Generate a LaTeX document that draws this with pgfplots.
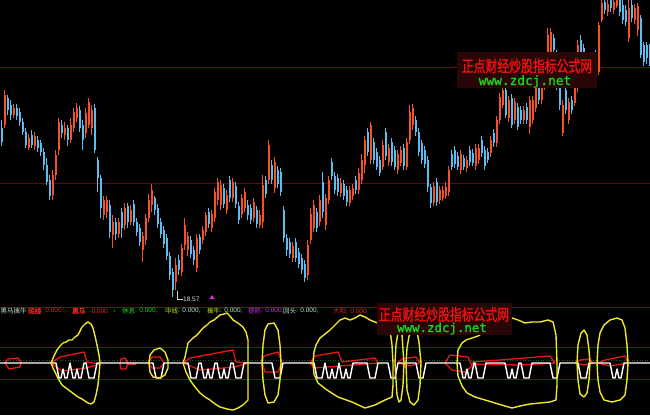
\documentclass[border=0pt]{standalone}
\usepackage{pgfplots}
\pgfplotsset{compat=1.18}
\usepackage{pgfplotstable}
\usepackage{fontspec}
\setmainfont{Noto Sans CJK SC}
\newfontfamily\wmfont[FakeStretch=0.74,FakeBold=1.2]{Noto Sans CJK SC}
\newfontfamily\hbfont[FakeBold=1.5]{Noto Sans CJK SC}
\newfontfamily\urlfont[FakeBold=1.5]{DejaVu Sans Mono}
\newfontfamily\numfont{Liberation Sans}
\definecolor{upc}{RGB}{248,80,40}
\definecolor{dnc}{RGB}{90,190,240}
\definecolor{gridc}{RGB}{105,8,8}
\definecolor{grid2}{RGB}{135,0,0}
\definecolor{yel}{RGB}{238,232,40}
\definecolor{flag}{RGB}{232,22,22}
\definecolor{wmbg}{RGB}{42,6,6}
\definecolor{wmred}{RGB}{238,18,18}
\definecolor{wmgreen}{RGB}{24,215,24}
\definecolor{hgray}{RGB}{215,215,215}
\definecolor{hgreen}{RGB}{40,215,40}
\definecolor{hyel}{RGB}{225,225,30}
\definecolor{hmag}{RGB}{230,40,230}
\definecolor{hred}{RGB}{240,30,30}

\pgfplotsset{
  up only/.style={restrict expr to domain={\thisrow{o}-\thisrow{c}}{0.01:10000}},
  down only/.style={restrict expr to domain={\thisrow{o}-\thisrow{c}}{-10000:0}},
  yshape/.style={yel, line width=1.4pt, mark=none, line join=round},
  fshape/.style={flag, line width=1.3pt, mark=none, line join=round},
}

% candles: pixel rows (y measured from top): open close high low
\pgfplotstableread{
o c h l
128 142 120 146
125 95 90 128
98 110 95 115
105 115 100 120
115 108 104 118
108 116 104 120
112 122 108 126
122 132 118 135
132 145 128 148
148 138 134 150
135 145 130 148
146 136 132 150
140 148 136 152
143 152 140 156
152 165 148 170
165 182 158 185
180 196 175 200
195 175 170 200
175 155 150 180
150 122 118 155
125 133 120 138
135 128 122 140
128 140 125 146
140 125 118 143
128 112 108 132
118 108 103 122
110 128 106 132
125 140 120 150
133 113 108 138
125 102 98 128
128 110 105 135
108 150 104 153
160 178 157 192
178 208 175 218
215 200 196 220
212 200 196 218
205 232 200 238
235 222 215 248
222 234 218 240
234 222 218 238
212 228 208 238
225 208 203 230
206 222 203 228
222 210 205 225
204 222 200 226
222 232 218 236
228 242 224 246
250 236 232 262
240 218 214 245
218 200 194 222
205 190 184 212
198 210 196 215
208 224 204 228
222 234 218 238
230 244 226 248
238 256 234 260
256 275 252 280
272 290 268 297
282 265 258 290
260 270 255 275
272 248 244 276
245 225 218 250
250 236 232 256
240 254 236 258
250 260 246 265
268 238 234 272
237 250 234 254
240 230 226 244
232 215 212 236
212 224 208 228
228 214 210 232
218 192 188 222
200 182 178 205
205 185 180 210
188 204 184 208
210 195 190 214
180 198 176 202
198 182 178 202
186 204 182 208
206 220 202 224
214 198 194 218
208 192 188 212
205 215 200 220
208 220 204 224
218 202 198 222
210 224 206 228
225 215 210 228
222 185 175 228
180 194 176 198
180 145 140 184
165 180 160 184
188 162 157 193
170 184 166 188
172 192 168 196
210 238 206 242
238 250 234 256
242 254 238 258
258 246 242 262
242 258 238 262
252 264 248 268
258 270 254 274
264 278 260 282
275 245 240 280
240 214 208 244
228 205 200 232
212 228 208 232
222 200 195 226
182 212 172 218
225 198 194 230
200 180 176 204
162 176 158 180
176 190 172 194
178 192 174 196
193 183 178 197
184 196 180 200
190 202 186 206
203 190 186 206
196 188 184 200
180 190 176 194
190 173 168 194
180 160 154 184
165 140 136 173
132 152 128 156
160 125 122 164
142 160 138 164
152 167 148 170
160 173 156 176
167 145 140 170
132 156 128 160
162 148 144 166
142 162 138 166
150 167 146 170
170 154 150 174
163 150 146 166
148 166 144 170
167 142 138 170
140 112 105 144
125 108 104 130
120 132 116 136
132 152 128 156
143 160 140 164
150 164 146 168
160 187 156 192
187 203 184 208
203 186 182 206
182 202 178 206
200 190 186 204
198 190 186 201
196 187 182 199
192 170 166 196
154 167 150 170
150 164 146 168
156 167 152 170
170 154 150 174
158 167 155 170
168 160 156 172
150 162 146 166
153 163 149 166
166 148 144 170
160 148 144 164
140 153 136 157
150 166 146 170
152 160 148 163
153 140 136 157
133 143 129 147
143 120 116 147
120 97 93 124
105 90 86 108
90 115 86 118
118 100 96 122
98 125 94 128
120 102 98 124
107 127 103 130
110 120 106 124
120 110 106 124
107 120 103 124
127 100 96 134
120 100 96 124
108 88 84 112
88 100 84 104
100 85 80 104
85 60 55 90
55 35 28 58
52 32 28 55
38 50 34 54
55 85 50 90
88 105 86 110
133 105 100 136
90 110 86 114
120 102 98 124
100 110 96 114
103 88 84 106
88 45 40 92
40 52 35 56
48 58 44 62
58 70 54 75
68 78 64 82
78 66 62 80
55 78 50 82
72 25 22 75
20 3 -5 22
2 10 -5 14
12 4 -5 16
-5 8 -10 12
10 2 -5 14
6 -5 -10 8
0 12 -5 16
5 20 -2 24
10 22 5 26
38 8 0 42
5 18 0 22
20 8 4 24
30 6 3 36
18 55 15 58
45 62 42 66
45 58 42 64
48 62 44 66
}\candles

\begin{document}
\begin{tikzpicture}
\clip (0,0) rectangle (650pt,415pt);
\fill[black] (0,0) rectangle (650pt,415pt);
\begin{axis}[at={(0,0)}, anchor=south west, width=650pt, height=415pt,
  scale only axis, xmin=0, xmax=650, ymin=0, ymax=415, y dir=reverse,
  hide axis, clip=true]

% grid lines
\draw[gridc, line width=1pt] (axis cs:0,67) -- (axis cs:650,67);
\draw[gridc, line width=1pt] (axis cs:0,183) -- (axis cs:650,183);
\draw[grid2, line width=1pt] (axis cs:0,307) -- (axis cs:650,307);
\draw[grid2, line width=1pt] (axis cs:0,347) -- (axis cs:650,347);
\draw[grid2, line width=1pt] (axis cs:0,379) -- (axis cs:650,379);

% candle wicks and bodies
\addplot[draw=none, mark=none, up only,
  error bars/.cd, y dir=both, y explicit, error mark=none,
  error bar style={draw=upc, solid, line width=1pt}]
  table[x expr={1.5+3*\coordindex}, y expr={(\thisrow{h}+\thisrow{l})/2},
        y error expr={(\thisrow{l}-\thisrow{h})/2}] {\candles};
\addplot[draw=none, mark=none, down only,
  error bars/.cd, y dir=both, y explicit, error mark=none,
  error bar style={draw=dnc, solid, line width=1pt}]
  table[x expr={1.5+3*\coordindex}, y expr={(\thisrow{h}+\thisrow{l})/2},
        y error expr={(\thisrow{l}-\thisrow{h})/2}] {\candles};
\addplot[draw=none, mark=none, up only,
  error bars/.cd, y dir=both, y explicit, error mark=none,
  error bar style={draw=upc, solid, line width=2pt}]
  table[x expr={1.5+3*\coordindex}, y expr={(\thisrow{o}+\thisrow{c})/2},
        y error expr={abs(\thisrow{o}-\thisrow{c})/2}] {\candles};
\addplot[draw=none, mark=none, down only,
  error bars/.cd, y dir=both, y explicit, error mark=none,
  error bar style={draw=dnc, solid, line width=2pt}]
  table[x expr={1.5+3*\coordindex}, y expr={(\thisrow{o}+\thisrow{c})/2},
        y error expr={abs(\thisrow{o}-\thisrow{c})/2}] {\candles};

% low marker
\draw[hgray, line width=0.6pt] (axis cs:177,291) -- (axis cs:177,299.5) -- (axis cs:183,299.5);
\node[anchor=west, inner sep=0pt, text=hgray, font=\numfont\fontsize{6.5}{6.5}\selectfont] at (axis cs:183,299.5) {18.57};
\fill[hmag] (axis cs:209.5,299) -- (axis cs:212,295) -- (axis cs:214.5,299) -- cycle;

% top watermark
\fill[wmbg] (axis cs:457,52) rectangle (axis cs:597,88);
\node[inner sep=0pt, text=wmred, font=\wmfont\fontsize{16}{16}\selectfont] at (axis cs:527,66) {正点财经炒股指标公式网};
\node[anchor=base, inner sep=0pt, text=wmgreen, font=\urlfont\fontsize{12.8}{13}\selectfont] at (axis cs:525,85) {www.zdcj.net};

% bottom panel: dotted base
\draw[gray!60!green!50!black, dotted, line width=0.6pt] (axis cs:0,360) -- (axis cs:650,360);

% red flags
\addplot[fshape] coordinates {(5,363)(8,359)(18,358)(21,362)(20,367)(9,369)(5,363)};
\addplot[fshape] coordinates {(51,363)(60,357)(84,352)(87,362)(100,364)(86,368)(62,371)(51,363)};
\addplot[fshape] coordinates {(120,364)(121,359)(125,358)(128,363)(126,369)(121,369)(120,364)};
\addplot[fshape] coordinates {(128,364)(136,364)};
\addplot[fshape] coordinates {(148,363)(152,357)(160,357)(164,363)(160,368)(152,368)(148,363)};
\addplot[fshape] coordinates {(183,363)(190,358)(233,350)(236,362)(248,363)(235,367)(200,370)(183,363)};
\addplot[fshape] coordinates {(262,362)(264,356)(278,352)(282,362)(278,372)(265,372)(262,362)};
\addplot[fshape] coordinates {(310,363)(315,356)(338,352)(342,362)(375,358)(378,363)(340,366)(315,368)(310,363)};
\addplot[fshape] coordinates {(398,363)(402,359)(416,357)(420,363)(410,366)(398,363)};
\addplot[fshape] coordinates {(445,363)(450,355)(468,357)(472,366)(465,372)(452,370)(445,363)};
\addplot[fshape] coordinates {(472,362)(500,360)(550,356)(555,363)(520,365)(472,364)};
\addplot[fshape] coordinates {(575,363)(580,360)(590,359)(593,363)(584,365)(575,363)};
\addplot[fshape] coordinates {(598,363)(605,360)(625,356)(628,363)(610,366)(598,363)};

% white line
\addplot[white, line width=1.4pt, mark=none, line join=round] coordinates {
(0,363)
(56,363)(59,378)(61,378)(63,369)(65,378)(67,378)(70,363)
(73,378)(75,378)(77,369)(79,378)(81,378)(84,363)
(86,363)(89,378)(94,378)(97,363)
(153,363)(156,378)(161,378)(164,363)
(188,363)(191,378)(196,378)(199,363)
(201,363)(204,378)(206,378)(208,369)(210,378)(212,378)(215,363)
(217,363)(220,378)(222,378)(224,369)(226,378)(228,378)(231,363)
(233,363)(236,378)(241,378)(244,363)
(272,363)(275,378)(280,378)(283,363)
(314,363)(317,378)(322,378)(325,363)
(328,378)(330,378)(332,369)(334,378)(336,378)(339,363)
(342,378)(344,378)(346,369)(348,378)(350,378)(353,363)
(367,363)(370,378)(375,378)(378,363)
(388,363)(391,378)(395,378)(398,363)
(416,363)(419,378)(423,378)(426,363)
(460,363)(463,378)(465,378)(467,369)(469,378)(471,378)(474,363)
(475,363)(478,378)(483,378)(486,363)
(505,363)(508,378)(510,378)(512,369)(514,378)(516,378)(519,363)
(521,363)(524,378)(529,378)(532,363)
(550,363)(553,378)(557,378)(560,363)
(578,363)(581,378)(586,378)(589,363)
(610,363)(613,378)(615,378)(617,369)(619,378)(621,378)(624,363)
(650,363)};

% yellow envelopes
\addplot[yshape] coordinates {(51,363)(54,356)(57,350)(60,346)(63,343)(66,342)(69,340)(72,340)(75,337)(78,335)(80,331)(82,327)(85,324)(88,322)(91,324)(93,328)(95,336)(97,345)(99,355)(100,363)(99,375)(98,385)(96,395)(94,402)(91,404)(88,403)(85,401)(82,399)(78,397)(74,394)(70,391)(66,388)(62,385)(59,380)(56,374)(53,368)(51,363)};
\addplot[yshape] coordinates {(149,363)(150,355)(154,350)(160,348)(165,352)(168,360)(168,368)(165,375)(160,378)(153,377)(150,372)(149,363)};
\addplot[yshape] coordinates {(183,363)(185,357)(188,343)(193,338)(197,335)(203,328)(207,325)(210,322)(214,320)(220,315)(224,314)(227,313)(230,316)(233,320)(238,323)(243,327)(246,332)(248,340)(248,363)(248,385)(248,400)(243,405)(238,408)(233,410)(227,409)(220,407)(215,404)(210,400)(205,397)(200,393)(195,387)(190,380)(186,372)(183,363)};
\addplot[yshape] coordinates {(262,363)(263,345)(265,330)(268,324)(274,323)(278,330)(280,345)(281,363)(280,380)(278,395)(274,402)(268,403)(265,395)(263,380)(262,363)};
\addplot[yshape] coordinates {(313,363)(314,352)(316,345)(320,338)(325,334)(330,330)(335,325)(340,320)(345,318)(350,320)(355,318)(360,315)(365,317)(370,320)(375,322)(380,324)(386,326)(390,330)(392,345)(393,363)(393,385)(392,397)(385,400)(375,405)(365,408)(352,402)(338,397)(327,390)(318,383)(314,374)(313,363)};
\addplot[yshape] coordinates {(395,363)(396,345)(398,332)(400,328)(402,334)(403,350)(404,363)(403,385)(401,400)(399,402)(397,395)(396,380)(395,363)};
\addplot[yshape] coordinates {(406,363)(407,348)(409,336)(413,330)(417,332)(419,342)(421,363)(420,385)(418,400)(414,405)(410,402)(407,390)(406,363)};
\addplot[yshape] coordinates {(457,363)(458,350)(462,343)(466,340)(472,338)(478,336)(483,333)(490,330)(500,325)(508,320)(512,318)(518,320)(525,323)(532,322)(540,322)(548,320)(553,322)(556,335)(557,363)(557,385)(556,400)(550,402)(540,403)(530,404)(520,406)(512,408)(505,406)(495,403)(485,400)(475,397)(467,393)(462,386)(458,376)(457,363)};
\addplot[yshape] coordinates {(577,363)(578,345)(581,333)(584,330)(587,335)(589,350)(590,363)(589,380)(587,393)(584,397)(580,394)(578,380)(577,363)};
\addplot[yshape] coordinates {(597,363)(598,345)(600,333)(604,325)(610,320)(617,318)(622,320)(625,328)(627,345)(628,363)(627,380)(625,395)(620,400)(612,402)(604,400)(600,392)(598,380)(597,363)};

% bottom watermark
\fill[wmbg] (axis cs:377,303) rectangle (axis cs:512,335);
\node[inner sep=0pt, text=wmred, font=\wmfont\fontsize{16}{16}\selectfont] at (axis cs:444,314.5) {正点财经炒股指标公式网};
\node[anchor=base, inner sep=0pt, text=wmgreen, font=\urlfont\fontsize{12.4}{13}\selectfont] at (axis cs:442,332) {www.zdcj.net};

% header line
\begin{scope}[every node/.style={anchor=west, inner sep=0pt, font=\fontsize{6.5}{6.5}\selectfont},
  val/.style={font=\numfont\fontsize{6.5}{6.5}\selectfont}]
\node[text=hgray] at (axis cs:0.5,311) {黑马擒牛};
\node[text=hred, font=\hbfont\fontsize{6.5}{6.5}\selectfont] at (axis cs:28,311) {短线};
\node[text=hred, val] at (axis cs:41,311) {: 0.000↑,};
\node[text=hred, font=\hbfont\fontsize{6.5}{6.5}\selectfont] at (axis cs:72,311) {黑马};
\node[text=hred, val] at (axis cs:85,311) {: -0.000};
\node[text=hgreen, val] at (axis cs:113,311) {↓};
\node[text=hgreen] at (axis cs:122,311) {休息};
\node[text=hgreen, val] at (axis cs:135,311) {: 0.000,};
\node[text=hyel] at (axis cs:165,311) {中线};
\node[text=hgray, val] at (axis cs:178,311) {: 0.000,};
\node[text=hyel] at (axis cs:207,311) {擒牛};
\node[text=hgray, val] at (axis cs:220,311) {: 0.000,};
\node[text=hmag] at (axis cs:248,311) {提防};
\node[text=hmag, val] at (axis cs:261,311) {: 0.000,};
\node[text=hgray] at (axis cs:283,311) {回头};
\node[text=hgray, val] at (axis cs:296,311) {: 0.000,};
\node[text=hred] at (axis cs:333,311) {大阳};
\node[text=hred, val] at (axis cs:346,311) {: 0.000};
\end{scope}
\end{axis}
\end{tikzpicture}
\end{document}
